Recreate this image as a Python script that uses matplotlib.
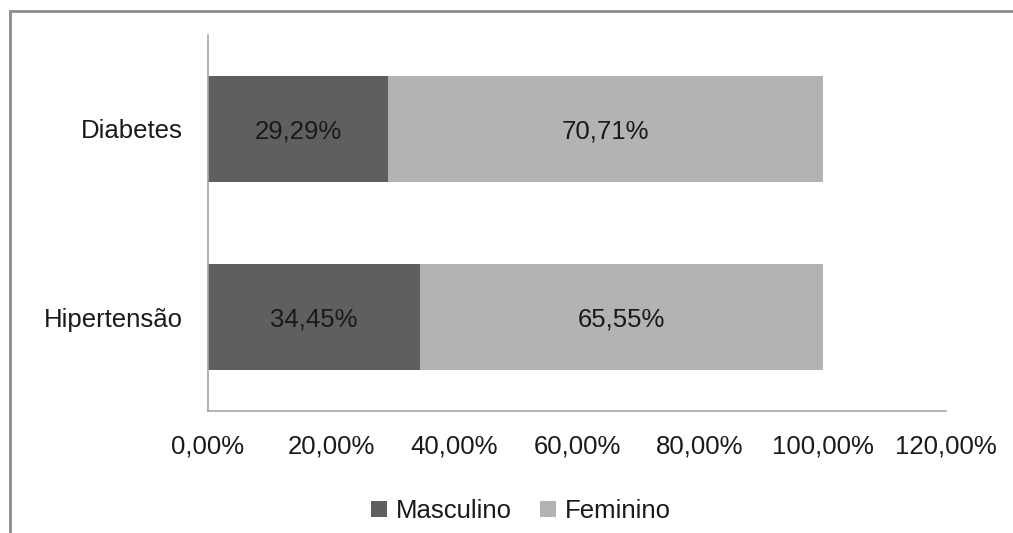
import matplotlib
matplotlib.use("Agg")
import matplotlib.pyplot as plt
from matplotlib.patches import Rectangle, Patch
from matplotlib.ticker import FuncFormatter

categories = ["Hipertensão", "Diabetes"]
masculino = [34.45, 29.29]
feminino = [65.55, 70.71]
series_names = ["Masculino", "Feminino"]
x_ticks = [0, 20, 40, 60, 80, 100, 120]

DARK = "#5f5f5f"
LIGHT = "#b3b3b3"
TEXT = "#1a1a1a"
FS = 18.5

plt.rcParams["font.family"] = ["Liberation Sans", "DejaVu Sans"]


def pct(v):
    return f"{v:.2f}%".replace(".", ",")


fig = plt.figure(figsize=(10.13, 5.33), dpi=100)
ax = fig.add_axes([208 / 1013, 1 - 411 / 533, (946 - 208) / 1013, (411 - 35) / 533])

y = range(len(categories))
ax.barh(y, masculino, height=0.56, color=DARK, edgecolor="none")
ax.barh(y, feminino, left=masculino, height=0.56, color=LIGHT, edgecolor="none")

for i in y:
    ax.text(masculino[i] / 2, i, pct(masculino[i]), ha="center", va="center_baseline",
            fontsize=FS, color=TEXT)
    ax.text(masculino[i] + feminino[i] / 2, i, pct(feminino[i]), ha="center",
            va="center_baseline", fontsize=FS, color=TEXT)

ax.set_xlim(0, 120)
ax.set_ylim(-0.5, 1.5)
ax.set_xticks(x_ticks)
ax.xaxis.set_major_formatter(FuncFormatter(lambda v, _: pct(v)))
ax.set_yticks(list(y))
ax.set_yticklabels(categories)
ax.tick_params(axis="x", length=0, pad=17, labelsize=FS, labelcolor=TEXT)
ax.tick_params(axis="y", length=0, pad=18, labelsize=FS, labelcolor=TEXT)
for s in ["top", "right"]:
    ax.spines[s].set_visible(False)
for s in ["left", "bottom"]:
    ax.spines[s].set_color("#a6a6a6")
    ax.spines[s].set_linewidth(1.2)

handles = [Patch(facecolor=DARK, label=series_names[0]),
           Patch(facecolor=LIGHT, label=series_names[1])]
fig.legend(handles=handles, loc="center", bbox_to_anchor=(521 / 1013, 1 - 511 / 533),
           ncol=2, frameon=False, fontsize=FS, handlelength=0.6, handleheight=0.6,
           handletextpad=0.35, columnspacing=1.1, labelcolor=TEXT)

# chart area border (runs off the right and bottom edges)
fig.add_artist(Rectangle((10 / 1013, -0.05), 1.1, 1 - 11 / 533 + 0.05,
                         transform=fig.transFigure, fill=False,
                         edgecolor="#8c8c8c", linewidth=2, clip_on=False))

fig.savefig("out.png", dpi=100)
